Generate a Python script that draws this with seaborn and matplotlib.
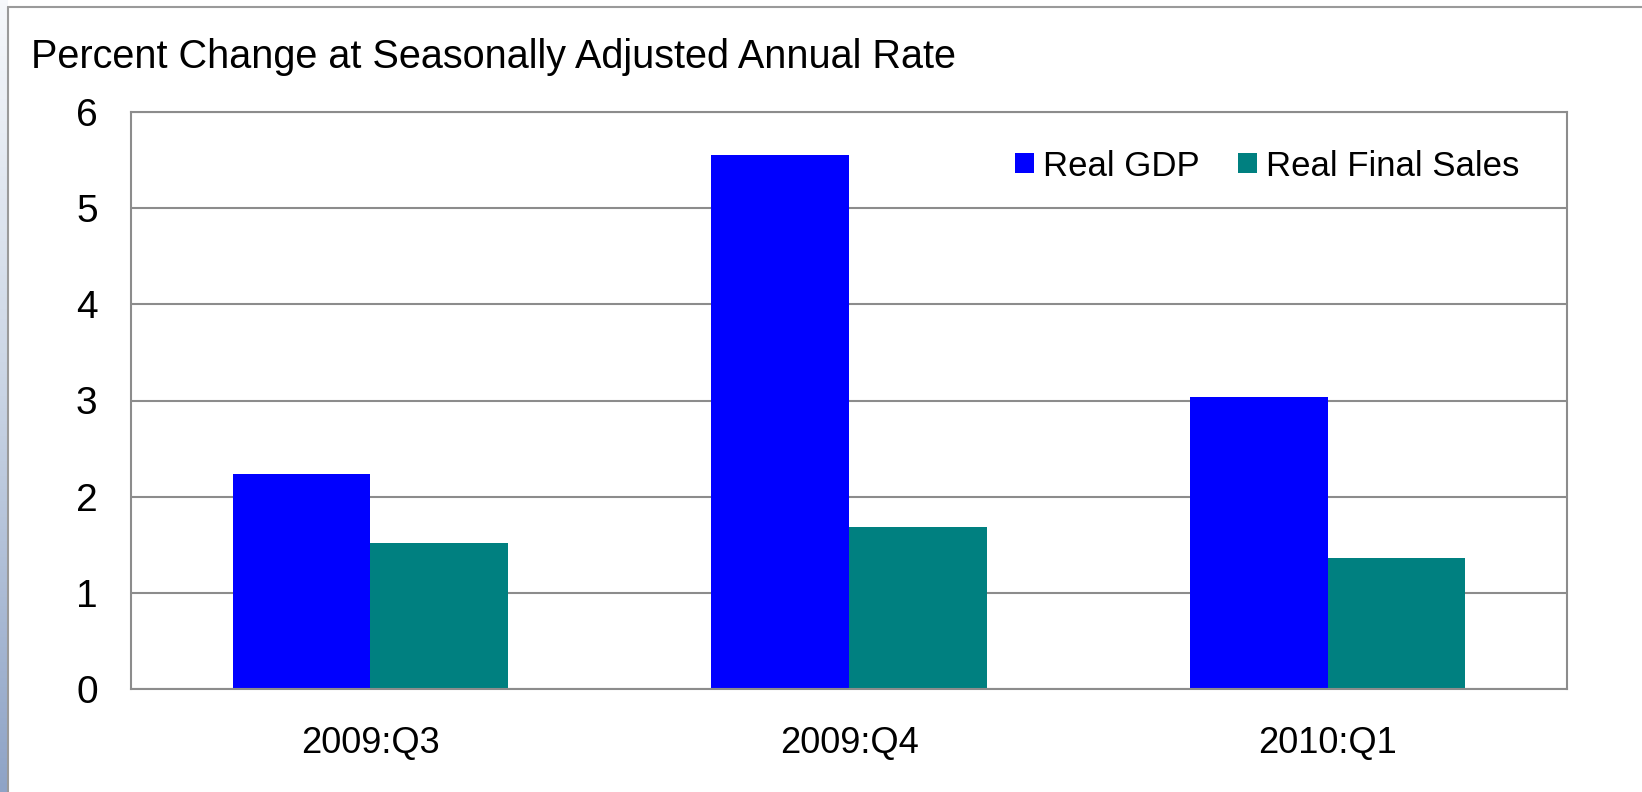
import matplotlib
matplotlib.use("Agg")
import matplotlib.pyplot as plt
from matplotlib.lines import Line2D
from matplotlib.colors import LinearSegmentedColormap
import seaborn as sns
import pandas as pd
import numpy as np

# ---- data ----
quarters = ["2009:Q3", "2009:Q4", "2010:Q1"]
real_gdp = [2.24, 5.55, 3.04]
real_final_sales = [1.52, 1.68, 1.36]
series_names = ["Real GDP", "Real Final Sales"]
y_ticks = [0, 1, 2, 3, 4, 5, 6]
title_text = "Percent Change at Seasonally Adjusted Annual Rate"

df = pd.DataFrame({
    "Quarter": quarters * 2,
    "Series": [series_names[0]] * len(quarters) + [series_names[1]] * len(quarters),
    "Value": real_gdp + real_final_sales,
})

sns.set_theme(style="white")
plt.rcParams['font.family'] = ['Liberation Sans', 'DejaVu Sans']
plt.rcParams['text.color'] = 'black'

W, H = 1642, 792
fig = plt.figure(figsize=(W / 100, H / 100), dpi=100)
fig.patch.set_facecolor("white")

# left gradient strip (background of slide)
gax = fig.add_axes([0, 0, 8 / W, 1])
grad = np.linspace(0, 1, 256).reshape(-1, 1)
cmap = LinearSegmentedColormap.from_list("bg", ["#f6f8fb", "#c9d4e4", "#8ea3c6"])
gax.imshow(grad, aspect="auto", cmap=cmap, extent=[0, 1, 0, 1], origin="upper")
gax.set_axis_off()

# frame border lines of the white panel
fig.add_artist(Line2D([8 / W, 8 / W], [0, 1 - 7 / H], transform=fig.transFigure,
                      color="#9a9a9a", linewidth=1.5))
fig.add_artist(Line2D([8 / W, 1], [1 - 7 / H, 1 - 7 / H], transform=fig.transFigure,
                      color="#9a9a9a", linewidth=1.5))

ax = fig.add_axes([131 / W, 1 - 689 / H, (1567 - 131) / W, (689 - 112) / H])
sns.barplot(data=df, x="Quarter", y="Value", hue="Series", order=quarters,
            hue_order=series_names, palette=["#0000FF", "#008080"],
            saturation=1, width=0.575, linewidth=0, ax=ax)

ax.set_xlim(-0.5, len(quarters) - 0.5)
ax.set_ylim(0, 6)
ax.set_yticks(y_ticks)
ax.set_yticklabels([str(t) for t in y_ticks], fontsize=28)
ax.set_xticks(range(len(quarters)))
ax.set_xticklabels(quarters, fontsize=26)
ax.set_xticks(np.arange(-0.5, len(quarters), 1.0), minor=True)
ax.tick_params(axis="x", which="major", length=0, pad=27, colors="black")
ax.tick_params(axis="x", which="minor", length=6, width=1.5, color="#8c8c8c",
               direction="out")
ax.tick_params(axis="y", which="major", length=0, pad=24, colors="black")
ax.set_xlabel("")
ax.set_ylabel("")

ax.yaxis.grid(True, color="#8c8c8c", linewidth=1.5)
ax.set_axisbelow(True)
for s in ax.spines.values():
    s.set_visible(True)
    s.set_color("#8c8c8c")
    s.set_linewidth(1.5)

handles, labels = ax.get_legend_handles_labels()
ax.legend(handles, labels, loc="center right", ncol=2, frameon=False,
          bbox_to_anchor=(1519 / W, 1 - 166 / H), bbox_transform=fig.transFigure,
          fontsize=25, handlelength=0.55, handleheight=0.5, handletextpad=0.25,
          columnspacing=1.1, borderpad=0, borderaxespad=0, labelcolor="black")

fig.text(31 / W, 1 - 68 / H, title_text, fontsize=28.5, va="baseline", ha="left",
         color="black")

fig.savefig("out.png", dpi=100)
